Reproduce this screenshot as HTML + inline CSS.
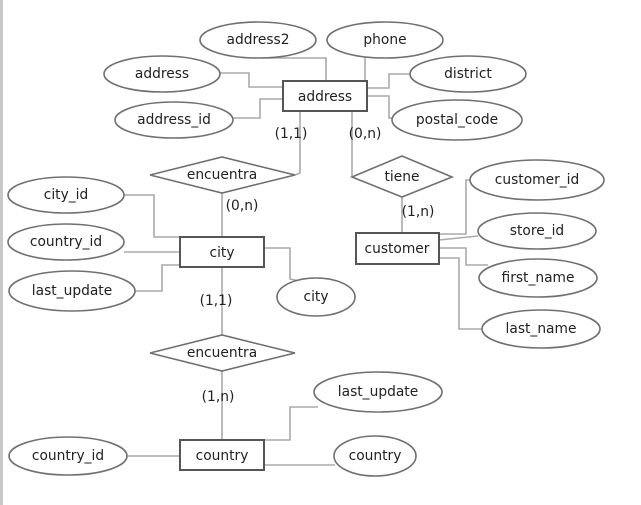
<!DOCTYPE html>
<html><head><meta charset="utf-8"><style>
html,body{margin:0;padding:0;background:#fff;}
svg{display:block}
text{font-family:"DejaVu Sans","Liberation Sans",sans-serif;font-size:13.8px;fill:#222;text-anchor:middle;dominant-baseline:middle}
</style></head><body>
<svg width="641" height="505" viewBox="0 0 641 505" xmlns="http://www.w3.org/2000/svg">
<rect x="0" y="0" width="3" height="505" fill="#c8c8c8"/>
<g fill="none" stroke="#aaa" stroke-width="1.6">
<polyline points="268,58 326,58 326,81"/>
<polyline points="365,56 365,81"/>
<polyline points="220,73 249,73 249,87 283,87"/>
<polyline points="232,118 260,118 260,99 283,99"/>
<polyline points="411,74 389,74 389,88 367,88"/>
<polyline points="367,96 389,96 389,118 394,118"/>
<polyline points="300,111 300,173 295,175"/>
<polyline points="352,111 352,177"/>
<polyline points="402,197 402,233"/>
<polyline points="222,193 222,237"/>
<polyline points="124,195 154,195 154,237 180,237"/>
<polyline points="124,252 180,252"/>
<polyline points="135,291 162,291 162,265 180,265"/>
<polyline points="264,248 290,248 290,279 300,281"/>
<polyline points="222,267 222,335"/>
<polyline points="222,371 222,440"/>
<polyline points="126,456 180,456"/>
<polyline points="318,407 290,407 290,440 264,440"/>
<polyline points="264,465 335,465"/>
<polyline points="439,234 466,234 466,180 470,180"/>
<polyline points="439,240 478,236"/>
<polyline points="439,248 466,248 466,265 488,265"/>
<polyline points="439,258 459,258 459,329 482,329"/>
</g>
<g fill="#fff" stroke="#707070" stroke-width="1.6">
<ellipse cx="258" cy="40" rx="58" ry="18"/>
<ellipse cx="385" cy="40" rx="58" ry="18"/>
<ellipse cx="162" cy="74" rx="58" ry="18"/>
<ellipse cx="468" cy="74" rx="58" ry="18"/>
<ellipse cx="174" cy="120" rx="59" ry="18"/>
<ellipse cx="457" cy="120" rx="65" ry="20"/>
<ellipse cx="66" cy="195" rx="58" ry="18"/>
<ellipse cx="66" cy="242" rx="58" ry="18"/>
<ellipse cx="72" cy="291" rx="63" ry="20"/>
<ellipse cx="537" cy="180" rx="67" ry="20"/>
<ellipse cx="537" cy="231" rx="59" ry="18"/>
<ellipse cx="538" cy="278" rx="59" ry="19"/>
<ellipse cx="541" cy="329" rx="59" ry="19"/>
<ellipse cx="316" cy="297" rx="39" ry="19"/>
<ellipse cx="378" cy="392" rx="64" ry="20"/>
<ellipse cx="68" cy="456" rx="59" ry="19"/>
<ellipse cx="375" cy="456" rx="41" ry="20"/>
<polygon points="150,175 222,157 295,175 222,193"/>
<polygon points="352,177 402,156 452,177 402,197"/>
<polygon points="150,353 222,335 295,353 222,371"/>
</g>
<g fill="#fff" stroke="#555" stroke-width="2">
<rect x="283" y="81" width="84" height="30"/>
<rect x="180" y="237" width="84" height="30"/>
<rect x="356" y="233" width="83" height="31"/>
<rect x="180" y="440" width="84" height="30"/>
</g>
<text x="258" y="40">address2</text>
<text x="385" y="40">phone</text>
<text x="162" y="74">address</text>
<text x="468" y="74">district</text>
<text x="174" y="120">address_id</text>
<text x="457" y="120">postal_code</text>
<text x="325" y="97">address</text>
<text x="291" y="134">(1,1)</text>
<text x="365" y="134">(0,n)</text>
<text x="222" y="175">encuentra</text>
<text x="402" y="177">tiene</text>
<text x="242" y="206">(0,n)</text>
<text x="418" y="212">(1,n)</text>
<text x="66" y="195">city_id</text>
<text x="66" y="242">country_id</text>
<text x="72" y="291">last_update</text>
<text x="222" y="253">city</text>
<text x="397" y="249">customer</text>
<text x="537" y="180">customer_id</text>
<text x="537" y="231">store_id</text>
<text x="538" y="278">first_name</text>
<text x="541" y="329">last_name</text>
<text x="316" y="297">city</text>
<text x="216" y="301">(1,1)</text>
<text x="222" y="353">encuentra</text>
<text x="218" y="397">(1,n)</text>
<text x="378" y="392">last_update</text>
<text x="68" y="456">country_id</text>
<text x="222" y="456">country</text>
<text x="375" y="456">country</text>
</svg>
</body></html>
